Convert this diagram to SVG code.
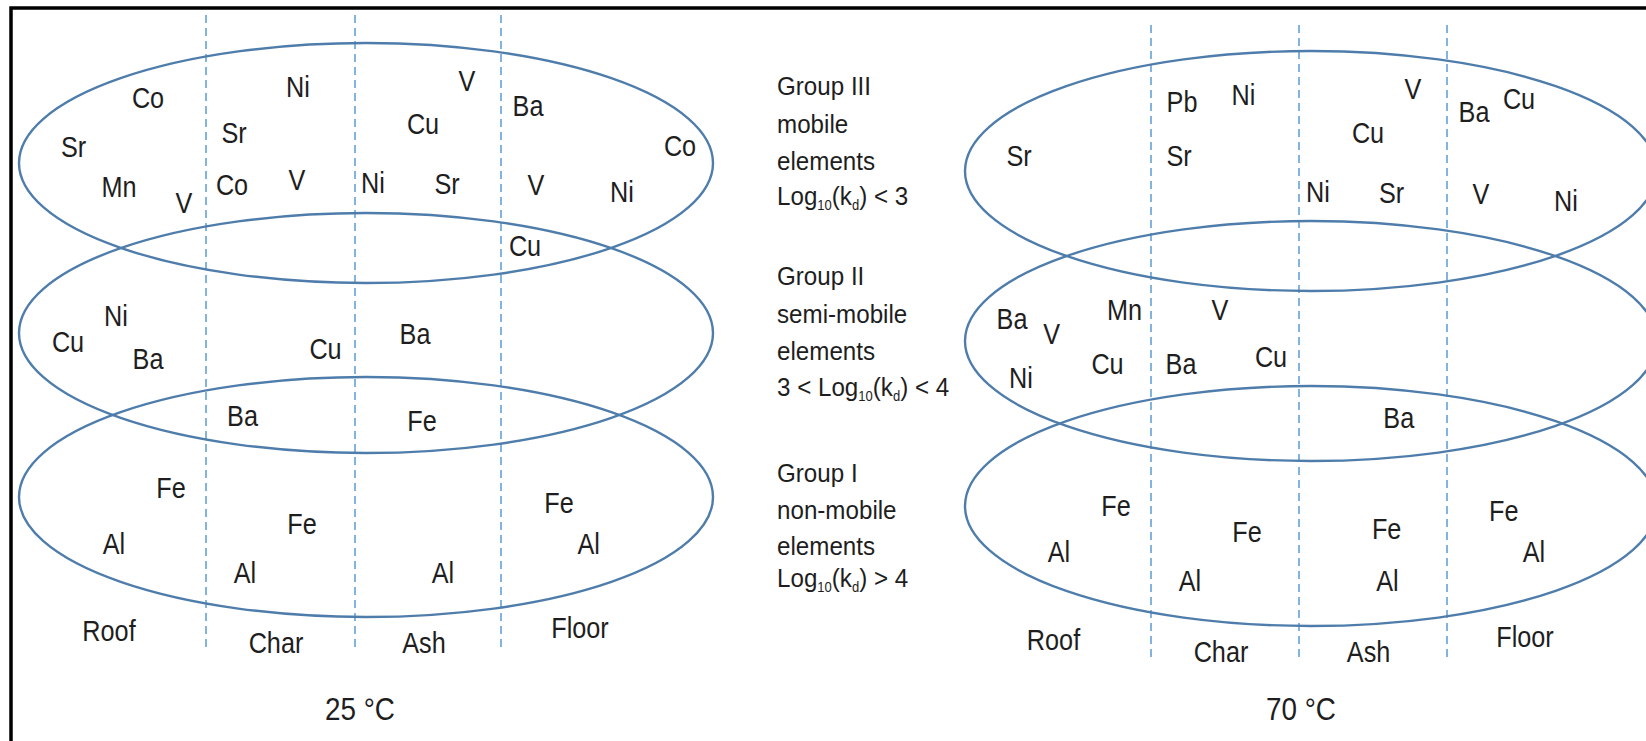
<svg xmlns="http://www.w3.org/2000/svg" width="1646" height="741" viewBox="0 0 1646 741">
<style>
.bg{fill:#ffffff}
.frame{fill:none;stroke:#000;stroke-width:3.5}
.ell{fill:none;stroke:#4f7dab;stroke-width:2.4}
.div{stroke:#5b9bd5;stroke-width:1.5;stroke-dasharray:8 5;fill:none}
.t{font-family:"Liberation Sans",Arial,sans-serif;font-size:29px;fill:#1e1e1e;text-anchor:middle}
.temp{font-family:"Liberation Sans",Arial,sans-serif;font-size:32px;fill:#1e1e1e;text-anchor:middle}
.m{font-family:"Liberation Sans",Arial,sans-serif;font-size:26px;fill:#1e1e1e}
.s{font-size:14px}
</style>
<rect class="bg" x="0" y="0" width="1646" height="741"/>
<path class="frame" d="M11 741 V8 H1646"/>

<g id="connectors">
  <g id="left-dividers">
    <line class="div" x1="206" y1="15" x2="206" y2="650"/>
    <line class="div" x1="355" y1="15" x2="355" y2="650"/>
    <line class="div" x1="501" y1="15" x2="501" y2="650"/>
  </g>
  <g id="right-dividers">
    <line class="div" x1="1151" y1="25" x2="1151" y2="660"/>
    <line class="div" x1="1299" y1="25" x2="1299" y2="660"/>
    <line class="div" x1="1447" y1="25" x2="1447" y2="660"/>
  </g>
</g>

<g id="left-panel">
  <g id="L-group3">
    <ellipse class="ell" cx="366" cy="163" rx="347" ry="120"/>
    <text class="t" transform="translate(148 108) scale(.87 1)">Co</text>
    <text class="t" transform="translate(73.5 157) scale(.87 1)">Sr</text>
    <text class="t" transform="translate(119 197) scale(.87 1)">Mn</text>
    <text class="t" transform="translate(184 213) scale(.87 1)">V</text>
    <text class="t" transform="translate(234 143) scale(.87 1)">Sr</text>
    <text class="t" transform="translate(232 195) scale(.87 1)">Co</text>
    <text class="t" transform="translate(298 97) scale(.87 1)">Ni</text>
    <text class="t" transform="translate(297 190) scale(.87 1)">V</text>
    <text class="t" transform="translate(373 193) scale(.87 1)">Ni</text>
    <text class="t" transform="translate(447 194) scale(.87 1)">Sr</text>
    <text class="t" transform="translate(423 134) scale(.87 1)">Cu</text>
    <text class="t" transform="translate(467 91) scale(.87 1)">V</text>
    <text class="t" transform="translate(528 116) scale(.87 1)">Ba</text>
    <text class="t" transform="translate(680 156) scale(.87 1)">Co</text>
    <text class="t" transform="translate(536 195) scale(.87 1)">V</text>
    <text class="t" transform="translate(622 202) scale(.87 1)">Ni</text>
    <text class="t" transform="translate(525 256) scale(.87 1)">Cu</text>
  </g>
  <g id="L-group2">
    <ellipse class="ell" cx="366" cy="333" rx="347" ry="120"/>
    <text class="t" transform="translate(116 326) scale(.87 1)">Ni</text>
    <text class="t" transform="translate(68 352) scale(.87 1)">Cu</text>
    <text class="t" transform="translate(148 369) scale(.87 1)">Ba</text>
    <text class="t" transform="translate(325.5 359) scale(.87 1)">Cu</text>
    <text class="t" transform="translate(415 344) scale(.87 1)">Ba</text>
    <text class="t" transform="translate(242.5 426) scale(.87 1)">Ba</text>
    <text class="t" transform="translate(422 431) scale(.87 1)">Fe</text>
  </g>
  <g id="L-group1">
    <ellipse class="ell" cx="366" cy="497" rx="347" ry="120"/>
    <text class="t" transform="translate(171 498) scale(.87 1)">Fe</text>
    <text class="t" transform="translate(114 554) scale(.87 1)">Al</text>
    <text class="t" transform="translate(302 534) scale(.87 1)">Fe</text>
    <text class="t" transform="translate(245 583) scale(.87 1)">Al</text>
    <text class="t" transform="translate(443 583) scale(.87 1)">Al</text>
    <text class="t" transform="translate(559 513) scale(.87 1)">Fe</text>
    <text class="t" transform="translate(588.6 554) scale(.87 1)">Al</text>
  </g>
  <g id="L-zones">
    <text class="t" transform="translate(109 641) scale(.87 1)">Roof</text>
    <text class="t" transform="translate(276 653) scale(.87 1)">Char</text>
    <text class="t" transform="translate(424 653) scale(.87 1)">Ash</text>
    <text class="t" transform="translate(580 638) scale(.87 1)">Floor</text>
  </g>
  <text class="temp" transform="translate(360 720) scale(.87 1)">25 °C</text>
</g>

<g id="legend">
  <g id="legend-group3">
    <text class="m" transform="translate(777 95) scale(.93 1)">Group III</text>
    <text class="m" transform="translate(777 133) scale(.93 1)">mobile</text>
    <text class="m" transform="translate(777 170) scale(.93 1)">elements</text>
    <text class="m" transform="translate(777 205) scale(.93 1)">Log<tspan class="s" dy="5">10</tspan><tspan dy="-5">(k</tspan><tspan class="s" dy="5">d</tspan><tspan dy="-5">) &lt; 3</tspan></text>
  </g>
  <g id="legend-group2">
    <text class="m" transform="translate(777 285) scale(.93 1)">Group II</text>
    <text class="m" transform="translate(777 323) scale(.93 1)">semi-mobile</text>
    <text class="m" transform="translate(777 360) scale(.93 1)">elements</text>
    <text class="m" transform="translate(777 396) scale(.93 1)">3 &lt; Log<tspan class="s" dy="5">10</tspan><tspan dy="-5">(k</tspan><tspan class="s" dy="5">d</tspan><tspan dy="-5">) &lt; 4</tspan></text>
  </g>
  <g id="legend-group1">
    <text class="m" transform="translate(777 482) scale(.93 1)">Group I</text>
    <text class="m" transform="translate(777 519) scale(.93 1)">non-mobile</text>
    <text class="m" transform="translate(777 555) scale(.93 1)">elements</text>
    <text class="m" transform="translate(777 587) scale(.93 1)">Log<tspan class="s" dy="5">10</tspan><tspan dy="-5">(k</tspan><tspan class="s" dy="5">d</tspan><tspan dy="-5">) &gt; 4</tspan></text>
  </g>
</g>

<g id="right-panel">
  <g id="R-group3">
    <ellipse class="ell" cx="1311" cy="171" rx="346" ry="120"/>
    <text class="t" transform="translate(1019 166) scale(.87 1)">Sr</text>
    <text class="t" transform="translate(1182 112) scale(.87 1)">Pb</text>
    <text class="t" transform="translate(1243.5 105) scale(.87 1)">Ni</text>
    <text class="t" transform="translate(1179 166) scale(.87 1)">Sr</text>
    <text class="t" transform="translate(1413 99) scale(.87 1)">V</text>
    <text class="t" transform="translate(1368 143) scale(.87 1)">Cu</text>
    <text class="t" transform="translate(1318 202) scale(.87 1)">Ni</text>
    <text class="t" transform="translate(1391.6 203) scale(.87 1)">Sr</text>
    <text class="t" transform="translate(1474 122) scale(.87 1)">Ba</text>
    <text class="t" transform="translate(1519 109) scale(.87 1)">Cu</text>
    <text class="t" transform="translate(1481 204) scale(.87 1)">V</text>
    <text class="t" transform="translate(1566 211) scale(.87 1)">Ni</text>
  </g>
  <g id="R-group2">
    <ellipse class="ell" cx="1311" cy="341" rx="346" ry="120"/>
    <text class="t" transform="translate(1012 329) scale(.87 1)">Ba</text>
    <text class="t" transform="translate(1051.6 344) scale(.87 1)">V</text>
    <text class="t" transform="translate(1124.6 320) scale(.87 1)">Mn</text>
    <text class="t" transform="translate(1220 320) scale(.87 1)">V</text>
    <text class="t" transform="translate(1107.5 374) scale(.87 1)">Cu</text>
    <text class="t" transform="translate(1021 388) scale(.87 1)">Ni</text>
    <text class="t" transform="translate(1181 374) scale(.87 1)">Ba</text>
    <text class="t" transform="translate(1271 367) scale(.87 1)">Cu</text>
    <text class="t" transform="translate(1398.8 428) scale(.87 1)">Ba</text>
  </g>
  <g id="R-group1">
    <ellipse class="ell" cx="1311" cy="506" rx="346" ry="120"/>
    <text class="t" transform="translate(1116 516) scale(.87 1)">Fe</text>
    <text class="t" transform="translate(1059 562) scale(.87 1)">Al</text>
    <text class="t" transform="translate(1247 542) scale(.87 1)">Fe</text>
    <text class="t" transform="translate(1190 591) scale(.87 1)">Al</text>
    <text class="t" transform="translate(1386.6 539) scale(.87 1)">Fe</text>
    <text class="t" transform="translate(1387.5 591) scale(.87 1)">Al</text>
    <text class="t" transform="translate(1503.7 521) scale(.87 1)">Fe</text>
    <text class="t" transform="translate(1534 562) scale(.87 1)">Al</text>
  </g>
  <g id="R-zones">
    <text class="t" transform="translate(1053.5 650) scale(.87 1)">Roof</text>
    <text class="t" transform="translate(1221 662) scale(.87 1)">Char</text>
    <text class="t" transform="translate(1368.6 662) scale(.87 1)">Ash</text>
    <text class="t" transform="translate(1525 647) scale(.87 1)">Floor</text>
  </g>
  <text class="temp" transform="translate(1301 720) scale(.87 1)">70 °C</text>
</g>
</svg>
